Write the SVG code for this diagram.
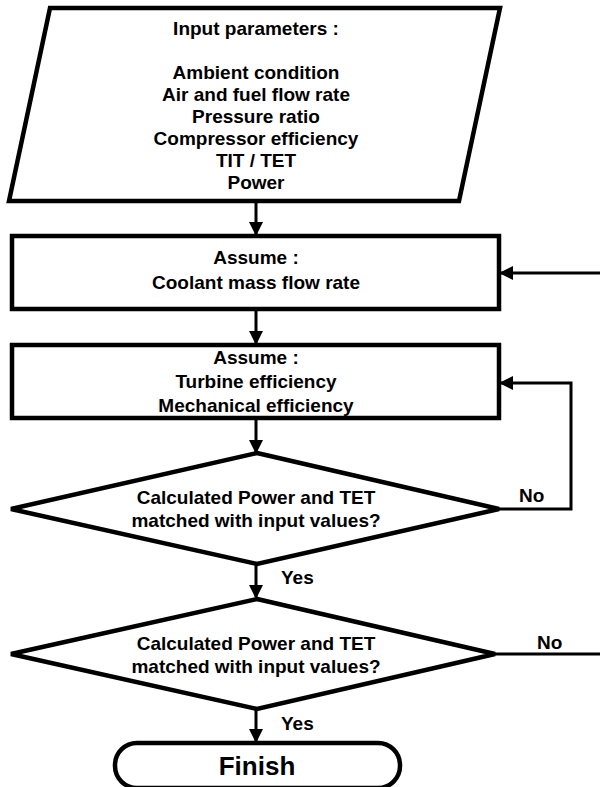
<svg xmlns="http://www.w3.org/2000/svg" width="600" height="787" viewBox="0 0 600 787">
<defs>
<marker id="arr" markerWidth="14" markerHeight="14" refX="12" refY="7" orient="auto" markerUnits="userSpaceOnUse">
<path d="M0,0 L14,7 L0,14 Z" fill="#000"/>
</marker>
<style>
.shape{fill:#fff;stroke:#000;stroke-width:4.5;stroke-linejoin:miter}
.conn{fill:none;stroke:#000;stroke-width:3}
text{font-family:"Liberation Sans",Arial,sans-serif;font-weight:bold;font-size:19px;text-anchor:middle;fill:#000}
.lbl{text-anchor:start}
.big{font-size:26px}
</style>
</defs>
<rect width="600" height="787" fill="#fff"/>
<g id="input">
<polygon class="shape" points="50,8 500,8 459,201 9,201"/>
<text x="256" y="35">Input parameters :</text>
<text x="256" y="79">Ambient condition</text>
<text x="256" y="101">Air and fuel flow rate</text>
<text x="256" y="123">Pressure ratio</text>
<text x="256" y="145">Compressor efficiency</text>
<text x="256" y="167">TIT / TET</text>
<text x="256" y="189">Power</text>
</g>
<g id="assume1">
<rect class="shape" x="12" y="236" width="487" height="73"/>
<text x="256" y="264">Assume :</text>
<text x="256" y="289">Coolant mass flow rate</text>
</g>
<g id="assume2">
<rect class="shape" x="12" y="345" width="487" height="73"/>
<text x="256" y="364">Assume :</text>
<text x="256" y="388">Turbine efficiency</text>
<text x="256" y="412">Mechanical efficiency</text>
</g>
<g id="decision1">
<polygon class="shape" points="257,453 499,509 257,564 11,509"/>
<text x="256" y="504">Calculated Power and TET</text>
<text x="256" y="527">matched with input values?</text>
</g>
<g id="decision2">
<polygon class="shape" points="257,599 495,654 257,709 11,654"/>
<text x="256" y="650">Calculated Power and TET</text>
<text x="256" y="673">matched with input values?</text>
</g>
<g id="finish">
<rect class="shape" x="115" y="743" width="285" height="45" rx="22" ry="22"/>
<text class="big" x="257" y="775">Finish</text>
</g>
<g id="connectors">
<line class="conn" x1="256" y1="201" x2="256" y2="234" marker-end="url(#arr)"/>
<line class="conn" x1="256" y1="309" x2="256" y2="343" marker-end="url(#arr)"/>
<line class="conn" x1="256" y1="418" x2="256" y2="452" marker-end="url(#arr)"/>
<line class="conn" x1="256" y1="564" x2="256" y2="597" marker-end="url(#arr)"/>
<line class="conn" x1="256" y1="709" x2="256" y2="741" marker-end="url(#arr)"/>
<polyline class="conn" points="499,509 571,509 571,383 501,383" marker-end="url(#arr)"/>
<line class="conn" x1="600" y1="273" x2="501" y2="273" marker-end="url(#arr)"/>
<line class="conn" x1="495" y1="654" x2="600" y2="654"/>
<text class="lbl" x="519" y="502">No</text>
<text class="lbl" x="537" y="649">No</text>
<text class="lbl" x="281" y="584">Yes</text>
<text class="lbl" x="281" y="730">Yes</text>
</g>
</svg>
